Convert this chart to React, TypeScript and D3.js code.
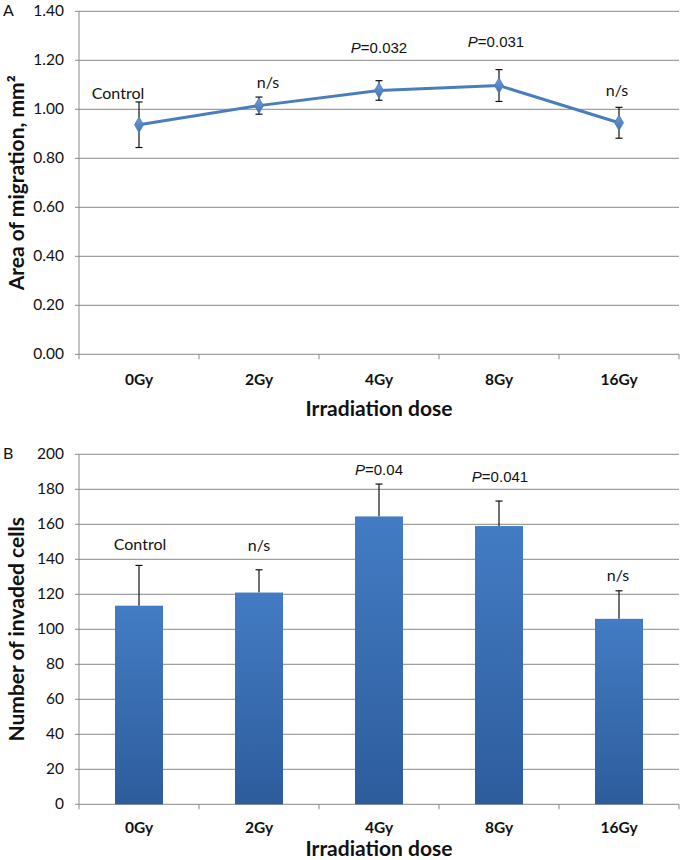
import React from "react";
import * as d3 from "d3";

const categories = ["0Gy", "2Gy", "4Gy", "8Gy", "16Gy"];

// Panel A: area of migration (mm²)
const migrationMean = [0.937, 1.015, 1.077, 1.097, 0.945];
const migrationErr = [0.093, 0.035, 0.04, 0.065, 0.063];
const migrationTicks = [0, 0.2, 0.4, 0.6, 0.8, 1.0, 1.2, 1.4];
const migrationNotes = ["Control", "n/s", "P=0.032", "P=0.031", "n/s"];
const migrationNoteY = [1.041, 1.086, 1.229, 1.253, 1.053];

// Panel B: number of invaded cells
const invadedMean = [113.5, 121, 164.5, 159, 106];
const invadedErr = [23, 13, 18.5, 14.3, 16];
const invadedTicks = [0, 20, 40, 60, 80, 100, 120, 140, 160, 180, 200];
const invadedNotes = ["Control", "n/s", "P=0.04", "P=0.041", "n/s"];
const invadedNoteY = [145.3, 144.5, 188.2, 184.2, 127.6];

const W = 681;
const H = 860;
const LEFT = 79;
const RIGHT = 679;
const GRID = "#898989";
const CAL = "Lato, 'Open Sans', sans-serif";
const ARIAL = "'Liberation Sans', Arial, sans-serif";
const noteDxA = [-21, 9, 0, -3, -2];
const noteDxB = [1, 0, 0, 1, -1];

function Note({ text, x, y }: { text: string; x: number; y: number }) {
  if (text.startsWith("P=")) {
    return (
      <text x={x} y={y} textAnchor="middle" fontFamily={ARIAL} fontSize={15} fill="#111">
        <tspan fontStyle="italic">P</tspan>
        <tspan>{text.slice(1)}</tspan>
      </text>
    );
  }
  return (
    <text x={x} y={y} textAnchor="middle" fontFamily={CAL} fontSize={16} fill="#111">
      {text}
    </text>
  );
}

function Axes({
  y,
  ticks,
  fmt,
  x,
  title,
  letter,
  tickDy,
  titleDy,
}: {
  y: d3.ScaleLinear<number, number>;
  ticks: number[];
  fmt: (v: number) => string;
  x: d3.ScaleBand<string>;
  title: string;
  letter: string;
  tickDy: number;
  titleDy: number;
}) {
  const [y0, y1] = y.range();
  const bounds = d3.range(categories.length + 1).map((i) => LEFT + i * x.step());
  return (
    <g>
      {ticks.map((t) => (
        <g key={t}>
          <line x1={LEFT - 4} x2={RIGHT} y1={y(t)} y2={y(t)} stroke={GRID} strokeWidth={1} />
          <text x={64} y={y(t) + 5} textAnchor="end" fontFamily={CAL} fontSize={15.5} fill="#111">
            {fmt(t)}
          </text>
        </g>
      ))}
      <line x1={LEFT} x2={LEFT} y1={y1} y2={y0} stroke={GRID} strokeWidth={1} />
      {bounds.map((b, i) => (
        <line key={i} x1={b} x2={b} y1={y0} y2={y0 + 5} stroke={GRID} strokeWidth={1} />
      ))}
      {categories.map((c) => (
        <text
          key={c}
          x={(x(c) as number) + x.bandwidth() / 2}
          y={y0 + tickDy}
          textAnchor="middle"
          fontFamily={CAL}
          fontWeight="bold"
          fontSize={15.5}
          fill="#111"
        >
          {c}
        </text>
      ))}
      <text
        x={(LEFT + RIGHT) / 2}
        y={y0 + titleDy}
        textAnchor="middle"
        fontFamily={CAL}
        fontWeight="bold"
        fontSize={21}
        fill="#111"
      >
        Irradiation dose
      </text>
      <text
        transform={`translate(24,${(y0 + y1) / 2}) rotate(-90)`}
        textAnchor="middle"
        fontFamily={CAL}
        fontWeight="bold"
        fontSize={21}
        fill="#111"
      >
        {title}
      </text>
      <text x={3} y={y1 + 5} fontFamily={CAL} fontSize={16} fill="#111">
        {letter}
      </text>
    </g>
  );
}

export default function App() {
  const xLine = d3.scaleBand<string>().domain(categories).range([LEFT, RIGHT]).padding(0);
  const xBar = d3
    .scaleBand<string>()
    .domain(categories)
    .range([LEFT, RIGHT])
    .paddingInner(0.6)
    .paddingOuter(0.3);
  const cx = (c: string) => (xLine(c) as number) + xLine.bandwidth() / 2;

  const yA = d3.scaleLinear().domain([0, 1.4]).range([354.3, 11.3]);
  const yB = d3.scaleLinear().domain([0, 200]).range([804.3, 454.3]);

  const line = d3
    .line<number>()
    .x((_, i) => cx(categories[i]))
    .y((d) => yA(d));

  const diamond = d3.symbol().type(d3.symbolDiamond).size(70)() as string;

  return (
    <svg
      width={W}
      height={H}
      style={{ position: "absolute", left: 0, top: 0, background: "#fff" }}
    >
      <defs>
        <linearGradient id="barGrad" x1="0" y1="0" x2="0" y2="1">
          <stop offset="0%" stopColor="#437cc4" />
          <stop offset="100%" stopColor="#2d5c9c" />
        </linearGradient>
        <linearGradient id="mk" x1="0" y1="0" x2="0" y2="1">
          <stop offset="0%" stopColor="#6f9cd6" />
          <stop offset="100%" stopColor="#3f72b3" />
        </linearGradient>
      </defs>
      <rect width={W} height={H} fill="#fff" />

      {/* Panel A */}
      <Axes
        y={yA}
        ticks={migrationTicks}
        fmt={(v) => v.toFixed(2)}
        x={xLine}
        title="Area of migration, mm²"
        letter="A"
        tickDy={31}
        titleDy={62}
      />
      {migrationMean.map((m, i) => {
        const x = cx(categories[i]);
        const top = yA(m + migrationErr[i]);
        const bot = yA(m - migrationErr[i]);
        return (
          <g key={i} stroke="#111" strokeWidth={1.2}>
            <line x1={x} x2={x} y1={top} y2={bot} />
            <line x1={x - 3.5} x2={x + 3.5} y1={top} y2={top} />
            <line x1={x - 3.5} x2={x + 3.5} y1={bot} y2={bot} />
          </g>
        );
      })}
      <path d={line(migrationMean) as string} fill="none" stroke="#4a7ebb" strokeWidth={3} />
      {migrationMean.map((m, i) => (
        <path
          key={i}
          d={diamond}
          transform={`translate(${cx(categories[i])},${yA(m)})`}
          fill="url(#mk)"
          stroke="#4a7ebb"
          strokeWidth={0.8}
        />
      ))}
      {migrationNotes.map((t, i) => (
        <Note key={i} text={t} x={cx(categories[i]) + noteDxA[i]} y={yA(migrationNoteY[i])} />
      ))}

      {/* Panel B */}
      <Axes
        y={yB}
        ticks={invadedTicks}
        fmt={(v) => String(v)}
        x={xLine}
        title="Number of invaded cells"
        letter="B"
        tickDy={29}
        titleDy={52}
      />
      {invadedMean.map((m, i) => {
        const c = categories[i];
        const x0 = xBar(c) as number;
        const x = x0 + xBar.bandwidth() / 2;
        const top = yB(m + invadedErr[i]);
        return (
          <g key={i}>
            <line x1={x} x2={x} y1={top} y2={yB(m)} stroke="#111" strokeWidth={1.2} />
            <line x1={x - 3.5} x2={x + 3.5} y1={top} y2={top} stroke="#111" strokeWidth={1.2} />
            <rect
              x={x0}
              y={yB(m)}
              width={xBar.bandwidth()}
              height={yB(0) - yB(m)}
              fill="url(#barGrad)"
            />
          </g>
        );
      })}
      {invadedNotes.map((t, i) => (
        <Note key={i} text={t} x={cx(categories[i]) + noteDxB[i]} y={yB(invadedNoteY[i])} />
      ))}
    </svg>
  );
}
